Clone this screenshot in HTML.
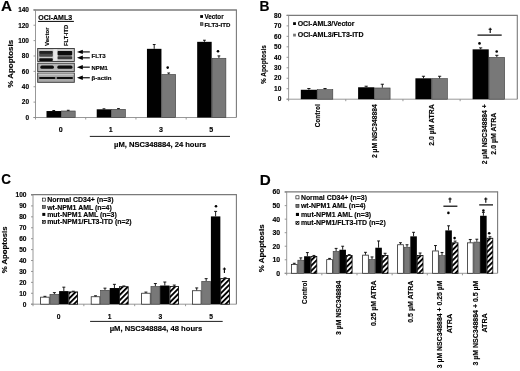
<!DOCTYPE html>
<html><head><meta charset="utf-8"><style>
html,body{margin:0;padding:0;background:#fff;overflow:hidden;}
svg{display:block;}
text{font-family:"Liberation Sans", sans-serif;stroke:#000;stroke-width:0.15px;}
</style></head><body>
<svg width="520" height="371" viewBox="0 0 520 371">
<defs>
<pattern id="hatch" patternUnits="userSpaceOnUse" width="3.7" height="3.7" patternTransform="rotate(45)">
<rect width="3.7" height="3.7" fill="#fff"/><rect width="1.9" height="3.7" fill="#000"/>
</pattern>
<pattern id="hatchS" patternUnits="userSpaceOnUse" width="1.8" height="1.8" patternTransform="rotate(45)">
<rect width="1.8" height="1.8" fill="#fff"/><rect width="0.9" height="1.8" fill="#000"/>
</pattern>
<filter id="bl" x="-5%" y="-5%" width="110%" height="110%"><feGaussianBlur stdDeviation="0.45"/></filter>
</defs>
<rect width="520" height="371" fill="#fff"/>
<g style="opacity:0.999">
<text x="1.1" y="11.2" font-size="15.0" text-anchor="start" font-weight="bold" fill="#000" textLength="11.0" lengthAdjust="spacingAndGlyphs">A</text>
<line x1="33.5" y1="10.0" x2="236.9" y2="10.0" stroke="#7a7a7a" stroke-width="1.3"/>
<line x1="236.4" y1="10.0" x2="236.4" y2="117.5" stroke="#7a7a7a" stroke-width="1.1"/>
<line x1="35.5" y1="10.0" x2="35.5" y2="119.5" stroke="#8c8c8c" stroke-width="0.9"/>
<line x1="33.5" y1="117.5" x2="236.4" y2="117.5" stroke="#8c8c8c" stroke-width="0.9"/>
<line x1="33.5" y1="117.5" x2="35.5" y2="117.5" stroke="#8c8c8c" stroke-width="0.9"/>
<text x="29.0" y="119.8" font-size="6.5" text-anchor="end" font-weight="bold" fill="#000">0</text>
<line x1="33.5" y1="102.12" x2="35.5" y2="102.12" stroke="#8c8c8c" stroke-width="0.9"/>
<text x="29.0" y="104.42" font-size="6.5" text-anchor="end" font-weight="bold" fill="#000">20</text>
<line x1="33.5" y1="86.74" x2="35.5" y2="86.74" stroke="#8c8c8c" stroke-width="0.9"/>
<text x="29.0" y="89.03999999999999" font-size="6.5" text-anchor="end" font-weight="bold" fill="#000">40</text>
<line x1="33.5" y1="71.36" x2="35.5" y2="71.36" stroke="#8c8c8c" stroke-width="0.9"/>
<text x="29.0" y="73.66" font-size="6.5" text-anchor="end" font-weight="bold" fill="#000">60</text>
<line x1="33.5" y1="55.98" x2="35.5" y2="55.98" stroke="#8c8c8c" stroke-width="0.9"/>
<text x="29.0" y="58.279999999999994" font-size="6.5" text-anchor="end" font-weight="bold" fill="#000">80</text>
<line x1="33.5" y1="40.599999999999994" x2="35.5" y2="40.599999999999994" stroke="#8c8c8c" stroke-width="0.9"/>
<text x="29.0" y="42.89999999999999" font-size="6.5" text-anchor="end" font-weight="bold" fill="#000">100</text>
<line x1="33.5" y1="25.22" x2="35.5" y2="25.22" stroke="#8c8c8c" stroke-width="0.9"/>
<text x="29.0" y="27.52" font-size="6.5" text-anchor="end" font-weight="bold" fill="#000">120</text>
<line x1="33.5" y1="9.840000000000003" x2="35.5" y2="9.840000000000003" stroke="#8c8c8c" stroke-width="0.9"/>
<text x="29.0" y="12.140000000000004" font-size="6.5" text-anchor="end" font-weight="bold" fill="#000">140</text>
<line x1="85.725" y1="117.5" x2="85.725" y2="119.5" stroke="#8c8c8c" stroke-width="0.9"/>
<line x1="135.95" y1="117.5" x2="135.95" y2="119.5" stroke="#8c8c8c" stroke-width="0.9"/>
<line x1="186.175" y1="117.5" x2="186.175" y2="119.5" stroke="#8c8c8c" stroke-width="0.9"/>
<text x="13.2" y="63.8" font-size="6.6" text-anchor="middle" font-weight="bold" fill="#000" transform="rotate(-90 13.2 63.8)" textLength="48" lengthAdjust="spacingAndGlyphs">% Apoptosis</text>
<rect x="46.50" y="111.04" width="14.50" height="6.46" fill="#000"/>
<rect x="61.30" y="110.99" width="13.90" height="6.51" fill="#787878" stroke="#3a3a3a" stroke-width="0.6"/>
<line x1="53.75" y1="111.04" x2="53.75" y2="110.50" stroke="#000" stroke-width="0.9"/>
<line x1="52.35" y1="110.50" x2="55.15" y2="110.50" stroke="#000" stroke-width="0.9"/>
<line x1="68.25" y1="110.69" x2="68.25" y2="110.27" stroke="#000" stroke-width="0.9"/>
<line x1="66.85" y1="110.27" x2="69.65" y2="110.27" stroke="#000" stroke-width="0.9"/>
<text x="60.6125" y="131.5" font-size="7.1" text-anchor="middle" font-weight="bold" fill="#000">0</text>
<rect x="96.72" y="109.31" width="14.50" height="8.19" fill="#000"/>
<rect x="111.52" y="109.30" width="13.90" height="8.20" fill="#787878" stroke="#3a3a3a" stroke-width="0.6"/>
<line x1="103.97" y1="109.31" x2="103.97" y2="108.81" stroke="#000" stroke-width="0.9"/>
<line x1="102.57" y1="108.81" x2="105.38" y2="108.81" stroke="#000" stroke-width="0.9"/>
<line x1="118.47" y1="109.00" x2="118.47" y2="108.58" stroke="#000" stroke-width="0.9"/>
<line x1="117.07" y1="108.58" x2="119.88" y2="108.58" stroke="#000" stroke-width="0.9"/>
<text x="110.83749999999999" y="131.5" font-size="7.1" text-anchor="middle" font-weight="bold" fill="#000">1</text>
<rect x="146.95" y="48.83" width="14.50" height="68.67" fill="#000"/>
<rect x="161.75" y="74.43" width="13.90" height="43.07" fill="#787878" stroke="#3a3a3a" stroke-width="0.6"/>
<line x1="154.20" y1="48.83" x2="154.20" y2="44.52" stroke="#000" stroke-width="0.9"/>
<line x1="152.80" y1="44.52" x2="155.60" y2="44.52" stroke="#000" stroke-width="0.9"/>
<line x1="168.70" y1="74.13" x2="168.70" y2="72.97" stroke="#000" stroke-width="0.9"/>
<line x1="167.30" y1="72.97" x2="170.10" y2="72.97" stroke="#000" stroke-width="0.9"/>
<text x="161.0625" y="131.5" font-size="7.1" text-anchor="middle" font-weight="bold" fill="#000">3</text>
<rect x="197.18" y="41.83" width="14.50" height="75.67" fill="#000"/>
<rect x="211.98" y="58.28" width="13.90" height="59.22" fill="#787878" stroke="#3a3a3a" stroke-width="0.6"/>
<line x1="204.43" y1="41.83" x2="204.43" y2="40.22" stroke="#000" stroke-width="0.9"/>
<line x1="203.03" y1="40.22" x2="205.83" y2="40.22" stroke="#000" stroke-width="0.9"/>
<line x1="218.93" y1="57.98" x2="218.93" y2="55.90" stroke="#000" stroke-width="0.9"/>
<line x1="217.53" y1="55.90" x2="220.33" y2="55.90" stroke="#000" stroke-width="0.9"/>
<text x="211.28750000000002" y="131.5" font-size="7.1" text-anchor="middle" font-weight="bold" fill="#000">5</text>
<circle cx="167.7" cy="67.6" r="1.3" fill="#000"/>
<circle cx="218.0" cy="51.3" r="1.3" fill="#000"/>
<line x1="89.8" y1="136.4" x2="230" y2="136.4" stroke="#000" stroke-width="0.9"/>
<text x="160.2" y="146.8" font-size="7.4" text-anchor="middle" font-weight="bold" fill="#000" textLength="92.3" lengthAdjust="spacingAndGlyphs">µM, NSC348884, 24 hours</text>
<rect x="200.20" y="15.10" width="2.80" height="2.80" fill="#000"/>
<text x="204.4" y="18.8" font-size="6.3" text-anchor="start" font-weight="bold" fill="#000" textLength="19.2" lengthAdjust="spacingAndGlyphs">Vector</text>
<rect x="200.40" y="22.70" width="2.60" height="2.60" fill="#787878" stroke="#222" stroke-width="0.6"/>
<text x="204.4" y="26.6" font-size="6.2" text-anchor="start" font-weight="bold" fill="#000" textLength="26" lengthAdjust="spacingAndGlyphs">FLT3-ITD</text>
<text x="38.2" y="20.3" font-size="7.0" text-anchor="start" font-weight="bold" fill="#000" textLength="34" lengthAdjust="spacingAndGlyphs">OCI-AML3</text>
<line x1="38.1" y1="21.4" x2="73.9" y2="21.4" stroke="#000" stroke-width="1.0"/>
<text x="49.4" y="46.0" font-size="6.0" text-anchor="start" font-weight="bold" fill="#000" transform="rotate(-90 49.4 46.0)" textLength="18.6" lengthAdjust="spacingAndGlyphs">Vector</text>
<text x="67.8" y="46.0" font-size="6.0" text-anchor="start" font-weight="bold" fill="#000" transform="rotate(-90 67.8 46.0)" textLength="21.2" lengthAdjust="spacingAndGlyphs">FLT-ITD</text>
<g filter="url(#bl)">
<rect x="37.70" y="48.50" width="36.60" height="13.00" fill="#c9c9c9" stroke="#333" stroke-width="0.9"/>
<rect x="53.40" y="49.30" width="3.80" height="11.40" fill="#e6e6e6"/>
<rect x="39.2" y="51.0" width="13.6" height="3.0" fill="#202020" rx="0.8"/>
<rect x="39.2" y="53.8" width="13.6" height="3.0" fill="#4a4a4a" rx="0.8"/>
<rect x="39.2" y="58.3" width="13.6" height="2.8" fill="#111" rx="0.8"/>
<rect x="57.6" y="51.0" width="14.6" height="4.4" fill="#0a0a0a" rx="0.8"/>
<rect x="57.6" y="56.3" width="14.6" height="3.0" fill="#3a3a3a" rx="0.8"/>
<rect x="37.70" y="63.20" width="36.60" height="8.40" fill="#b5b5b5" stroke="#333" stroke-width="0.9"/>
<rect x="40.3" y="65.6" width="13.6" height="3.1" fill="#0a0a0a" rx="1.5"/>
<rect x="57.3" y="65.6" width="15.2" height="3.1" fill="#0a0a0a" rx="1.5"/>
<rect x="37.70" y="73.10" width="36.60" height="9.20" fill="#a8a8a8" stroke="#333" stroke-width="0.9"/>
<rect x="38.30" y="73.60" width="35.40" height="1.60" fill="#c8c8c8"/>
<rect x="39.0" y="76.9" width="16.5" height="2.0" fill="#111" rx="1"/>
<rect x="56.5" y="76.9" width="16.5" height="2.0" fill="#111" rx="1"/>
</g>
<line x1="82" y1="51.9" x2="89.8" y2="51.9" stroke="#333" stroke-width="1.4"/>
<path d="M76.9 51.9 L82.8 49.699999999999996 L82.8 54.1 Z" fill="#000"/>
<line x1="82" y1="57.8" x2="89.8" y2="57.8" stroke="#333" stroke-width="1.4"/>
<path d="M76.9 57.8 L82.8 55.599999999999994 L82.8 60.0 Z" fill="#000"/>
<line x1="82" y1="67.2" x2="89.8" y2="67.2" stroke="#333" stroke-width="1.4"/>
<path d="M76.9 67.2 L82.8 65.0 L82.8 69.4 Z" fill="#000"/>
<line x1="82" y1="77.7" x2="89.8" y2="77.7" stroke="#333" stroke-width="1.4"/>
<path d="M76.9 77.7 L82.8 75.5 L82.8 79.9 Z" fill="#000"/>
<text x="91.5" y="57.8" font-size="6.1" text-anchor="start" font-weight="bold" fill="#000" textLength="14.2" lengthAdjust="spacingAndGlyphs">FLT3</text>
<text x="91.5" y="69.5" font-size="6.0" text-anchor="start" font-weight="bold" fill="#000" textLength="16.4" lengthAdjust="spacingAndGlyphs">NPM1</text>
<text x="91.5" y="80.0" font-size="6.1" text-anchor="start" font-weight="bold" fill="#000" textLength="20" lengthAdjust="spacingAndGlyphs">β-actin</text>
<text x="259.6" y="11.3" font-size="15.5" text-anchor="start" font-weight="bold" fill="#000" textLength="10.0" lengthAdjust="spacingAndGlyphs">B</text>
<line x1="286.6" y1="15.4" x2="517.8" y2="15.4" stroke="#7a7a7a" stroke-width="1.3"/>
<line x1="517.3" y1="15.4" x2="517.3" y2="99.2" stroke="#7a7a7a" stroke-width="1.1"/>
<line x1="288.6" y1="15.4" x2="288.6" y2="101.2" stroke="#8c8c8c" stroke-width="0.9"/>
<line x1="286.6" y1="99.2" x2="517.3" y2="99.2" stroke="#8c8c8c" stroke-width="0.9"/>
<line x1="286.6" y1="99.2" x2="288.6" y2="99.2" stroke="#8c8c8c" stroke-width="0.9"/>
<text x="281.4" y="101.4" font-size="6.6" text-anchor="end" font-weight="bold" fill="#000">0</text>
<line x1="286.6" y1="88.725" x2="288.6" y2="88.725" stroke="#8c8c8c" stroke-width="0.9"/>
<text x="281.4" y="90.925" font-size="6.6" text-anchor="end" font-weight="bold" fill="#000">10</text>
<line x1="286.6" y1="78.25" x2="288.6" y2="78.25" stroke="#8c8c8c" stroke-width="0.9"/>
<text x="281.4" y="80.45" font-size="6.6" text-anchor="end" font-weight="bold" fill="#000">20</text>
<line x1="286.6" y1="67.775" x2="288.6" y2="67.775" stroke="#8c8c8c" stroke-width="0.9"/>
<text x="281.4" y="69.97500000000001" font-size="6.6" text-anchor="end" font-weight="bold" fill="#000">30</text>
<line x1="286.6" y1="57.3" x2="288.6" y2="57.3" stroke="#8c8c8c" stroke-width="0.9"/>
<text x="281.4" y="59.5" font-size="6.6" text-anchor="end" font-weight="bold" fill="#000">40</text>
<line x1="286.6" y1="46.824999999999996" x2="288.6" y2="46.824999999999996" stroke="#8c8c8c" stroke-width="0.9"/>
<text x="281.4" y="49.025" font-size="6.6" text-anchor="end" font-weight="bold" fill="#000">50</text>
<line x1="286.6" y1="36.349999999999994" x2="288.6" y2="36.349999999999994" stroke="#8c8c8c" stroke-width="0.9"/>
<text x="281.4" y="38.55" font-size="6.6" text-anchor="end" font-weight="bold" fill="#000">60</text>
<line x1="286.6" y1="25.875" x2="288.6" y2="25.875" stroke="#8c8c8c" stroke-width="0.9"/>
<text x="281.4" y="28.075" font-size="6.6" text-anchor="end" font-weight="bold" fill="#000">70</text>
<line x1="286.6" y1="15.399999999999991" x2="288.6" y2="15.399999999999991" stroke="#8c8c8c" stroke-width="0.9"/>
<text x="281.4" y="17.59999999999999" font-size="6.6" text-anchor="end" font-weight="bold" fill="#000">80</text>
<line x1="345.775" y1="99.2" x2="345.775" y2="101.2" stroke="#8c8c8c" stroke-width="0.9"/>
<line x1="402.95" y1="99.2" x2="402.95" y2="101.2" stroke="#8c8c8c" stroke-width="0.9"/>
<line x1="460.125" y1="99.2" x2="460.125" y2="101.2" stroke="#8c8c8c" stroke-width="0.9"/>
<text x="266.5" y="64.6" font-size="7.0" text-anchor="middle" font-weight="bold" fill="#000" transform="rotate(-90 266.5 64.6)" textLength="39" lengthAdjust="spacingAndGlyphs">% Apoptosis</text>
<rect x="300.80" y="89.77" width="16.15" height="9.43" fill="#000"/>
<rect x="317.25" y="89.65" width="15.55" height="9.55" fill="#787878" stroke="#3a3a3a" stroke-width="0.6"/>
<line x1="308.88" y1="89.77" x2="308.88" y2="88.52" stroke="#000" stroke-width="0.9"/>
<line x1="307.27" y1="88.52" x2="310.48" y2="88.52" stroke="#000" stroke-width="0.9"/>
<line x1="325.03" y1="89.35" x2="325.03" y2="88.52" stroke="#000" stroke-width="0.9"/>
<line x1="323.43" y1="88.52" x2="326.63" y2="88.52" stroke="#000" stroke-width="0.9"/>
<rect x="358.10" y="87.26" width="16.15" height="11.94" fill="#000"/>
<rect x="374.55" y="87.98" width="15.55" height="11.22" fill="#787878" stroke="#3a3a3a" stroke-width="0.6"/>
<line x1="366.18" y1="87.26" x2="366.18" y2="86.21" stroke="#000" stroke-width="0.9"/>
<line x1="364.57" y1="86.21" x2="367.78" y2="86.21" stroke="#000" stroke-width="0.9"/>
<line x1="382.33" y1="87.68" x2="382.33" y2="84.22" stroke="#000" stroke-width="0.9"/>
<line x1="380.73" y1="84.22" x2="383.93" y2="84.22" stroke="#000" stroke-width="0.9"/>
<rect x="415.40" y="78.30" width="16.15" height="20.90" fill="#000"/>
<rect x="431.85" y="78.60" width="15.55" height="20.60" fill="#787878" stroke="#3a3a3a" stroke-width="0.6"/>
<line x1="423.47" y1="78.30" x2="423.47" y2="76.26" stroke="#000" stroke-width="0.9"/>
<line x1="421.87" y1="76.26" x2="425.07" y2="76.26" stroke="#000" stroke-width="0.9"/>
<line x1="439.62" y1="78.30" x2="439.62" y2="76.26" stroke="#000" stroke-width="0.9"/>
<line x1="438.02" y1="76.26" x2="441.23" y2="76.26" stroke="#000" stroke-width="0.9"/>
<rect x="472.60" y="49.34" width="16.15" height="49.86" fill="#000"/>
<rect x="489.05" y="57.39" width="15.55" height="41.81" fill="#787878" stroke="#3a3a3a" stroke-width="0.6"/>
<line x1="480.68" y1="49.34" x2="480.68" y2="47.87" stroke="#000" stroke-width="0.9"/>
<line x1="479.07" y1="47.87" x2="482.28" y2="47.87" stroke="#000" stroke-width="0.9"/>
<line x1="496.83" y1="57.09" x2="496.83" y2="55.31" stroke="#000" stroke-width="0.9"/>
<line x1="495.23" y1="55.31" x2="498.43" y2="55.31" stroke="#000" stroke-width="0.9"/>
<text x="320.0" y="104.3" font-size="6.5" text-anchor="end" font-weight="bold" fill="#000" transform="rotate(-90 320.0 104.3)" textLength="23.0" lengthAdjust="spacingAndGlyphs">Control</text>
<text x="376.8" y="104.3" font-size="6.7" text-anchor="end" font-weight="bold" fill="#000" transform="rotate(-90 376.8 104.3)" textLength="53.7" lengthAdjust="spacingAndGlyphs">2 µM NSC348884</text>
<text x="434.0" y="104.3" font-size="6.8" text-anchor="end" font-weight="bold" fill="#000" transform="rotate(-90 434.0 104.3)" textLength="41.5" lengthAdjust="spacingAndGlyphs">2.0 µM ATRA</text>
<text x="487.4" y="104.3" font-size="6.8" text-anchor="end" font-weight="bold" fill="#000" transform="rotate(-90 487.4 104.3)" textLength="60" lengthAdjust="spacingAndGlyphs">2 µM NSC348884 +</text>
<text x="496.2" y="133.7" font-size="6.8" text-anchor="middle" font-weight="bold" fill="#000" transform="rotate(-90 496.2 133.7)" textLength="41.9" lengthAdjust="spacingAndGlyphs">2.0 µM ATRA</text>
<circle cx="479.5" cy="43.4" r="1.3" fill="#000"/>
<circle cx="496.7" cy="51.5" r="1.3" fill="#000"/>
<line x1="477.5" y1="35.1" x2="501.7" y2="35.1" stroke="#000" stroke-width="1.2"/>
<path d="M489.65 27.70 h1.1 v5.4 h-1.1 Z M488.60 28.80 h3.2 v1.0 h-3.2 Z" fill="#000"/>
<rect x="293.10" y="22.20" width="2.80" height="2.80" fill="#000"/>
<text x="297.7" y="26.0" font-size="6.8" text-anchor="start" font-weight="bold" fill="#000" textLength="56.9" lengthAdjust="spacingAndGlyphs">OCI-AML3/Vector</text>
<rect x="293.10" y="33.70" width="2.80" height="2.80" fill="#787878"/>
<text x="297.7" y="37.4" font-size="6.8" text-anchor="start" font-weight="bold" fill="#000" textLength="65.8" lengthAdjust="spacingAndGlyphs">OCI-AML3/FLT3-ITD</text>
<text x="1.3" y="184.4" font-size="15.5" text-anchor="start" font-weight="bold" fill="#000" textLength="9.8" lengthAdjust="spacingAndGlyphs">C</text>
<line x1="31.0" y1="194.6" x2="236.9" y2="194.6" stroke="#7a7a7a" stroke-width="1.3"/>
<line x1="236.4" y1="194.6" x2="236.4" y2="304.2" stroke="#7a7a7a" stroke-width="1.1"/>
<line x1="33.0" y1="194.6" x2="33.0" y2="306.2" stroke="#8c8c8c" stroke-width="0.9"/>
<line x1="31.0" y1="304.2" x2="236.4" y2="304.2" stroke="#8c8c8c" stroke-width="0.9"/>
<line x1="31.0" y1="304.2" x2="33.0" y2="304.2" stroke="#8c8c8c" stroke-width="0.9"/>
<text x="26.5" y="306.5" font-size="6.6" text-anchor="end" font-weight="bold" fill="#000">0</text>
<line x1="31.0" y1="293.28" x2="33.0" y2="293.28" stroke="#8c8c8c" stroke-width="0.9"/>
<text x="26.5" y="295.58" font-size="6.6" text-anchor="end" font-weight="bold" fill="#000">10</text>
<line x1="31.0" y1="282.36" x2="33.0" y2="282.36" stroke="#8c8c8c" stroke-width="0.9"/>
<text x="26.5" y="284.66" font-size="6.6" text-anchor="end" font-weight="bold" fill="#000">20</text>
<line x1="31.0" y1="271.44" x2="33.0" y2="271.44" stroke="#8c8c8c" stroke-width="0.9"/>
<text x="26.5" y="273.74" font-size="6.6" text-anchor="end" font-weight="bold" fill="#000">30</text>
<line x1="31.0" y1="260.52" x2="33.0" y2="260.52" stroke="#8c8c8c" stroke-width="0.9"/>
<text x="26.5" y="262.82" font-size="6.6" text-anchor="end" font-weight="bold" fill="#000">40</text>
<line x1="31.0" y1="249.6" x2="33.0" y2="249.6" stroke="#8c8c8c" stroke-width="0.9"/>
<text x="26.5" y="251.9" font-size="6.6" text-anchor="end" font-weight="bold" fill="#000">50</text>
<line x1="31.0" y1="238.67999999999998" x2="33.0" y2="238.67999999999998" stroke="#8c8c8c" stroke-width="0.9"/>
<text x="26.5" y="240.98" font-size="6.6" text-anchor="end" font-weight="bold" fill="#000">60</text>
<line x1="31.0" y1="227.76" x2="33.0" y2="227.76" stroke="#8c8c8c" stroke-width="0.9"/>
<text x="26.5" y="230.06" font-size="6.6" text-anchor="end" font-weight="bold" fill="#000">70</text>
<line x1="31.0" y1="216.83999999999997" x2="33.0" y2="216.83999999999997" stroke="#8c8c8c" stroke-width="0.9"/>
<text x="26.5" y="219.14" font-size="6.6" text-anchor="end" font-weight="bold" fill="#000">80</text>
<line x1="31.0" y1="205.92" x2="33.0" y2="205.92" stroke="#8c8c8c" stroke-width="0.9"/>
<text x="26.5" y="208.22" font-size="6.6" text-anchor="end" font-weight="bold" fill="#000">90</text>
<line x1="31.0" y1="195.0" x2="33.0" y2="195.0" stroke="#8c8c8c" stroke-width="0.9"/>
<text x="26.5" y="197.3" font-size="6.6" text-anchor="end" font-weight="bold" fill="#000">100</text>
<line x1="83.85" y1="304.2" x2="83.85" y2="306.2" stroke="#8c8c8c" stroke-width="0.9"/>
<line x1="134.7" y1="304.2" x2="134.7" y2="306.2" stroke="#8c8c8c" stroke-width="0.9"/>
<line x1="185.55" y1="304.2" x2="185.55" y2="306.2" stroke="#8c8c8c" stroke-width="0.9"/>
<text x="7.0" y="249.9" font-size="6.8" text-anchor="middle" font-weight="bold" fill="#000" transform="rotate(-90 7.0 249.9)" textLength="46.8" lengthAdjust="spacingAndGlyphs">% Apoptosis</text>
<rect x="40.60" y="297.17" width="8.65" height="7.03" fill="#fff" stroke="#2a2a2a" stroke-width="0.8"/>
<line x1="44.93" y1="296.77" x2="44.93" y2="296.34" stroke="#000" stroke-width="0.9"/>
<line x1="43.43" y1="296.34" x2="46.43" y2="296.34" stroke="#000" stroke-width="0.9"/>
<rect x="49.95" y="294.34" width="8.85" height="9.86" fill="#787878" stroke="#3a3a3a" stroke-width="0.6"/>
<line x1="54.38" y1="294.04" x2="54.38" y2="292.62" stroke="#000" stroke-width="0.9"/>
<line x1="52.88" y1="292.62" x2="55.88" y2="292.62" stroke="#000" stroke-width="0.9"/>
<rect x="59.10" y="291.10" width="9.45" height="13.10" fill="#000"/>
<line x1="63.83" y1="291.10" x2="63.83" y2="287.16" stroke="#000" stroke-width="0.9"/>
<line x1="62.33" y1="287.16" x2="65.33" y2="287.16" stroke="#000" stroke-width="0.9"/>
<rect x="68.95" y="291.93" width="8.65" height="12.27" fill="url(#hatch)" stroke="#000" stroke-width="0.8"/>
<line x1="73.27" y1="291.53" x2="73.27" y2="291.21" stroke="#000" stroke-width="0.9"/>
<line x1="71.77" y1="291.21" x2="74.77" y2="291.21" stroke="#000" stroke-width="0.9"/>
<rect x="91.20" y="296.74" width="8.65" height="7.46" fill="#fff" stroke="#2a2a2a" stroke-width="0.8"/>
<line x1="95.52" y1="296.34" x2="95.52" y2="295.79" stroke="#000" stroke-width="0.9"/>
<line x1="94.02" y1="295.79" x2="97.02" y2="295.79" stroke="#000" stroke-width="0.9"/>
<rect x="100.55" y="290.30" width="8.85" height="13.90" fill="#787878" stroke="#3a3a3a" stroke-width="0.6"/>
<line x1="104.97" y1="290.00" x2="104.97" y2="288.15" stroke="#000" stroke-width="0.9"/>
<line x1="103.47" y1="288.15" x2="106.47" y2="288.15" stroke="#000" stroke-width="0.9"/>
<rect x="109.70" y="288.04" width="9.45" height="16.16" fill="#000"/>
<line x1="114.42" y1="288.04" x2="114.42" y2="284.33" stroke="#000" stroke-width="0.9"/>
<line x1="112.92" y1="284.33" x2="115.92" y2="284.33" stroke="#000" stroke-width="0.9"/>
<rect x="119.55" y="286.69" width="8.65" height="17.51" fill="url(#hatch)" stroke="#000" stroke-width="0.8"/>
<line x1="123.87" y1="286.29" x2="123.87" y2="285.96" stroke="#000" stroke-width="0.9"/>
<line x1="122.37" y1="285.96" x2="125.37" y2="285.96" stroke="#000" stroke-width="0.9"/>
<rect x="141.60" y="293.24" width="8.65" height="10.96" fill="#fff" stroke="#2a2a2a" stroke-width="0.8"/>
<line x1="145.92" y1="292.84" x2="145.92" y2="292.08" stroke="#000" stroke-width="0.9"/>
<line x1="144.42" y1="292.08" x2="147.42" y2="292.08" stroke="#000" stroke-width="0.9"/>
<rect x="150.95" y="286.48" width="8.85" height="17.72" fill="#787878" stroke="#3a3a3a" stroke-width="0.6"/>
<line x1="155.37" y1="286.18" x2="155.37" y2="283.56" stroke="#000" stroke-width="0.9"/>
<line x1="153.87" y1="283.56" x2="156.87" y2="283.56" stroke="#000" stroke-width="0.9"/>
<rect x="160.10" y="285.53" width="9.45" height="18.67" fill="#000"/>
<line x1="164.82" y1="285.53" x2="164.82" y2="282.03" stroke="#000" stroke-width="0.9"/>
<line x1="163.32" y1="282.03" x2="166.32" y2="282.03" stroke="#000" stroke-width="0.9"/>
<rect x="169.95" y="286.58" width="8.65" height="17.62" fill="url(#hatch)" stroke="#000" stroke-width="0.8"/>
<line x1="174.27" y1="286.18" x2="174.27" y2="285.09" stroke="#000" stroke-width="0.9"/>
<line x1="172.77" y1="285.09" x2="175.77" y2="285.09" stroke="#000" stroke-width="0.9"/>
<rect x="192.40" y="290.73" width="8.65" height="13.47" fill="#fff" stroke="#2a2a2a" stroke-width="0.8"/>
<line x1="196.72" y1="290.33" x2="196.72" y2="287.93" stroke="#000" stroke-width="0.9"/>
<line x1="195.22" y1="287.93" x2="198.22" y2="287.93" stroke="#000" stroke-width="0.9"/>
<rect x="201.75" y="281.35" width="8.85" height="22.85" fill="#787878" stroke="#3a3a3a" stroke-width="0.6"/>
<line x1="206.17" y1="281.05" x2="206.17" y2="278.65" stroke="#000" stroke-width="0.9"/>
<line x1="204.67" y1="278.65" x2="207.67" y2="278.65" stroke="#000" stroke-width="0.9"/>
<rect x="210.90" y="216.40" width="9.45" height="87.80" fill="#000"/>
<line x1="215.62" y1="216.40" x2="215.62" y2="211.38" stroke="#000" stroke-width="0.9"/>
<line x1="214.12" y1="211.38" x2="217.12" y2="211.38" stroke="#000" stroke-width="0.9"/>
<rect x="220.75" y="278.50" width="8.65" height="25.70" fill="url(#hatch)" stroke="#000" stroke-width="0.8"/>
<line x1="225.07" y1="278.10" x2="225.07" y2="277.77" stroke="#000" stroke-width="0.9"/>
<line x1="223.57" y1="277.77" x2="226.57" y2="277.77" stroke="#000" stroke-width="0.9"/>
<text x="58.65" y="318.8" font-size="6.7" text-anchor="middle" font-weight="bold" fill="#000">0</text>
<text x="109.5" y="318.8" font-size="6.7" text-anchor="middle" font-weight="bold" fill="#000">1</text>
<text x="160.3" y="318.8" font-size="6.7" text-anchor="middle" font-weight="bold" fill="#000">3</text>
<text x="211.0" y="318.8" font-size="6.7" text-anchor="middle" font-weight="bold" fill="#000">5</text>
<circle cx="216.0" cy="206.3" r="1.3" fill="#000"/>
<path d="M223.85 267.50 h1.1 v5.4 h-1.1 Z M222.80 268.60 h3.2 v1.0 h-3.2 Z" fill="#000"/>
<line x1="90.1" y1="321.4" x2="222.7" y2="321.4" stroke="#000" stroke-width="0.9"/>
<text x="156.0" y="331.0" font-size="7.4" text-anchor="middle" font-weight="bold" fill="#000" textLength="92.6" lengthAdjust="spacingAndGlyphs">µM, NSC348884, 48 hours</text>
<rect x="42.30" y="198.10" width="3.00" height="3.00" fill="#fff" stroke="#000" stroke-width="0.6"/>
<text x="47.2" y="202.1" font-size="6.95" text-anchor="start" font-weight="bold" fill="#000">Normal CD34+ (n=3)</text>
<rect x="42.30" y="205.50" width="3.00" height="3.00" fill="#787878" stroke="#222" stroke-width="0.6"/>
<text x="47.2" y="209.5" font-size="6.95" text-anchor="start" font-weight="bold" fill="#000">wt-NPM1 AML (n=4)</text>
<rect x="42.30" y="212.90" width="3.00" height="3.00" fill="#000"/>
<text x="47.2" y="216.9" font-size="6.95" text-anchor="start" font-weight="bold" fill="#000">mut-NPM1 AML (n=3)</text>
<rect x="42.30" y="220.30" width="3.00" height="3.00" fill="url(#hatchS)" stroke="#000" stroke-width="0.6"/>
<text x="47.2" y="224.3" font-size="6.95" text-anchor="start" font-weight="bold" fill="#000">mut-NPM1/FLT3-ITD (n=2)</text>
<text x="259.8" y="184.6" font-size="15.5" text-anchor="start" font-weight="bold" fill="#000" textLength="11.0" lengthAdjust="spacingAndGlyphs">D</text>
<line x1="284.7" y1="191.8" x2="498.1" y2="191.8" stroke="#7a7a7a" stroke-width="1.3"/>
<line x1="497.6" y1="191.8" x2="497.6" y2="273.3" stroke="#7a7a7a" stroke-width="1.1"/>
<line x1="286.7" y1="191.8" x2="286.7" y2="275.3" stroke="#8c8c8c" stroke-width="0.9"/>
<line x1="284.7" y1="273.3" x2="497.6" y2="273.3" stroke="#8c8c8c" stroke-width="0.9"/>
<line x1="284.7" y1="273.3" x2="286.7" y2="273.3" stroke="#8c8c8c" stroke-width="0.9"/>
<text x="280.2" y="275.65000000000003" font-size="6.9" text-anchor="end" font-weight="bold" fill="#000">0</text>
<line x1="284.7" y1="259.767" x2="286.7" y2="259.767" stroke="#8c8c8c" stroke-width="0.9"/>
<text x="280.2" y="262.117" font-size="6.9" text-anchor="end" font-weight="bold" fill="#000">10</text>
<line x1="284.7" y1="246.234" x2="286.7" y2="246.234" stroke="#8c8c8c" stroke-width="0.9"/>
<text x="280.2" y="248.584" font-size="6.9" text-anchor="end" font-weight="bold" fill="#000">20</text>
<line x1="284.7" y1="232.70100000000002" x2="286.7" y2="232.70100000000002" stroke="#8c8c8c" stroke-width="0.9"/>
<text x="280.2" y="235.05100000000002" font-size="6.9" text-anchor="end" font-weight="bold" fill="#000">30</text>
<line x1="284.7" y1="219.168" x2="286.7" y2="219.168" stroke="#8c8c8c" stroke-width="0.9"/>
<text x="280.2" y="221.518" font-size="6.9" text-anchor="end" font-weight="bold" fill="#000">40</text>
<line x1="284.7" y1="205.63500000000002" x2="286.7" y2="205.63500000000002" stroke="#8c8c8c" stroke-width="0.9"/>
<text x="280.2" y="207.985" font-size="6.9" text-anchor="end" font-weight="bold" fill="#000">50</text>
<line x1="284.7" y1="192.10200000000003" x2="286.7" y2="192.10200000000003" stroke="#8c8c8c" stroke-width="0.9"/>
<text x="280.2" y="194.45200000000003" font-size="6.9" text-anchor="end" font-weight="bold" fill="#000">60</text>
<line x1="321.85" y1="273.3" x2="321.85" y2="275.3" stroke="#8c8c8c" stroke-width="0.9"/>
<line x1="357.0" y1="273.3" x2="357.0" y2="275.3" stroke="#8c8c8c" stroke-width="0.9"/>
<line x1="392.15" y1="273.3" x2="392.15" y2="275.3" stroke="#8c8c8c" stroke-width="0.9"/>
<line x1="427.3" y1="273.3" x2="427.3" y2="275.3" stroke="#8c8c8c" stroke-width="0.9"/>
<line x1="462.45000000000005" y1="273.3" x2="462.45000000000005" y2="275.3" stroke="#8c8c8c" stroke-width="0.9"/>
<text x="264.1" y="248.3" font-size="6.6" text-anchor="middle" font-weight="bold" fill="#000" transform="rotate(-90 264.1 248.3)" textLength="48" lengthAdjust="spacingAndGlyphs">% Apoptosis</text>
<rect x="291.40" y="264.50" width="5.75" height="8.80" fill="#fff" stroke="#2a2a2a" stroke-width="0.8"/>
<line x1="294.27" y1="264.10" x2="294.27" y2="263.29" stroke="#000" stroke-width="0.9"/>
<line x1="292.82" y1="263.29" x2="295.72" y2="263.29" stroke="#000" stroke-width="0.9"/>
<rect x="297.85" y="260.20" width="5.95" height="13.10" fill="#787878" stroke="#3a3a3a" stroke-width="0.6"/>
<line x1="300.82" y1="259.90" x2="300.82" y2="257.87" stroke="#000" stroke-width="0.9"/>
<line x1="299.38" y1="257.87" x2="302.27" y2="257.87" stroke="#000" stroke-width="0.9"/>
<rect x="304.10" y="256.25" width="6.55" height="17.05" fill="#000"/>
<line x1="307.38" y1="256.25" x2="307.38" y2="252.59" stroke="#000" stroke-width="0.9"/>
<line x1="305.93" y1="252.59" x2="308.82" y2="252.59" stroke="#000" stroke-width="0.9"/>
<rect x="311.05" y="256.38" width="5.75" height="16.92" fill="url(#hatch)" stroke="#000" stroke-width="0.8"/>
<line x1="313.92" y1="255.98" x2="313.92" y2="255.44" stroke="#000" stroke-width="0.9"/>
<line x1="312.47" y1="255.44" x2="315.37" y2="255.44" stroke="#000" stroke-width="0.9"/>
<rect x="326.70" y="259.63" width="5.75" height="13.67" fill="#fff" stroke="#2a2a2a" stroke-width="0.8"/>
<line x1="329.57" y1="259.23" x2="329.57" y2="258.41" stroke="#000" stroke-width="0.9"/>
<line x1="328.12" y1="258.41" x2="331.02" y2="258.41" stroke="#000" stroke-width="0.9"/>
<rect x="333.15" y="251.41" width="5.95" height="21.89" fill="#787878" stroke="#3a3a3a" stroke-width="0.6"/>
<line x1="336.12" y1="251.11" x2="336.12" y2="248.40" stroke="#000" stroke-width="0.9"/>
<line x1="334.68" y1="248.40" x2="337.57" y2="248.40" stroke="#000" stroke-width="0.9"/>
<rect x="339.40" y="249.75" width="6.55" height="23.55" fill="#000"/>
<line x1="342.68" y1="249.75" x2="342.68" y2="246.23" stroke="#000" stroke-width="0.9"/>
<line x1="341.23" y1="246.23" x2="344.12" y2="246.23" stroke="#000" stroke-width="0.9"/>
<rect x="346.35" y="255.57" width="5.75" height="17.73" fill="url(#hatch)" stroke="#000" stroke-width="0.8"/>
<line x1="349.22" y1="255.17" x2="349.22" y2="254.62" stroke="#000" stroke-width="0.9"/>
<line x1="347.77" y1="254.62" x2="350.67" y2="254.62" stroke="#000" stroke-width="0.9"/>
<rect x="362.60" y="255.16" width="5.75" height="18.14" fill="#fff" stroke="#2a2a2a" stroke-width="0.8"/>
<line x1="365.47" y1="254.76" x2="365.47" y2="252.32" stroke="#000" stroke-width="0.9"/>
<line x1="364.02" y1="252.32" x2="366.92" y2="252.32" stroke="#000" stroke-width="0.9"/>
<rect x="369.05" y="259.53" width="5.95" height="13.77" fill="#787878" stroke="#3a3a3a" stroke-width="0.6"/>
<line x1="372.02" y1="259.23" x2="372.02" y2="256.93" stroke="#000" stroke-width="0.9"/>
<line x1="370.57" y1="256.93" x2="373.47" y2="256.93" stroke="#000" stroke-width="0.9"/>
<rect x="375.30" y="247.72" width="6.55" height="25.58" fill="#000"/>
<line x1="378.57" y1="247.72" x2="378.57" y2="240.96" stroke="#000" stroke-width="0.9"/>
<line x1="377.12" y1="240.96" x2="380.02" y2="240.96" stroke="#000" stroke-width="0.9"/>
<rect x="382.25" y="255.57" width="5.75" height="17.73" fill="url(#hatch)" stroke="#000" stroke-width="0.8"/>
<line x1="385.12" y1="255.17" x2="385.12" y2="253.27" stroke="#000" stroke-width="0.9"/>
<line x1="383.67" y1="253.27" x2="386.57" y2="253.27" stroke="#000" stroke-width="0.9"/>
<rect x="397.60" y="244.74" width="5.75" height="28.56" fill="#fff" stroke="#2a2a2a" stroke-width="0.8"/>
<line x1="400.47" y1="244.34" x2="400.47" y2="242.72" stroke="#000" stroke-width="0.9"/>
<line x1="399.02" y1="242.72" x2="401.92" y2="242.72" stroke="#000" stroke-width="0.9"/>
<rect x="404.05" y="247.21" width="5.95" height="26.09" fill="#787878" stroke="#3a3a3a" stroke-width="0.6"/>
<line x1="407.02" y1="246.91" x2="407.02" y2="244.75" stroke="#000" stroke-width="0.9"/>
<line x1="405.57" y1="244.75" x2="408.47" y2="244.75" stroke="#000" stroke-width="0.9"/>
<rect x="410.30" y="236.35" width="6.55" height="36.95" fill="#000"/>
<line x1="413.57" y1="236.35" x2="413.57" y2="232.30" stroke="#000" stroke-width="0.9"/>
<line x1="412.12" y1="232.30" x2="415.02" y2="232.30" stroke="#000" stroke-width="0.9"/>
<rect x="417.25" y="255.57" width="5.75" height="17.73" fill="url(#hatch)" stroke="#000" stroke-width="0.8"/>
<line x1="420.12" y1="255.17" x2="420.12" y2="253.00" stroke="#000" stroke-width="0.9"/>
<line x1="418.67" y1="253.00" x2="421.57" y2="253.00" stroke="#000" stroke-width="0.9"/>
<rect x="432.60" y="250.96" width="5.75" height="22.34" fill="#fff" stroke="#2a2a2a" stroke-width="0.8"/>
<line x1="435.47" y1="250.56" x2="435.47" y2="245.56" stroke="#000" stroke-width="0.9"/>
<line x1="434.02" y1="245.56" x2="436.92" y2="245.56" stroke="#000" stroke-width="0.9"/>
<rect x="439.05" y="255.60" width="5.95" height="17.70" fill="#787878" stroke="#3a3a3a" stroke-width="0.6"/>
<line x1="442.02" y1="255.30" x2="442.02" y2="252.46" stroke="#000" stroke-width="0.9"/>
<line x1="440.57" y1="252.46" x2="443.47" y2="252.46" stroke="#000" stroke-width="0.9"/>
<rect x="445.30" y="230.40" width="6.55" height="42.90" fill="#000"/>
<line x1="448.57" y1="230.40" x2="448.57" y2="225.80" stroke="#000" stroke-width="0.9"/>
<line x1="447.12" y1="225.80" x2="450.02" y2="225.80" stroke="#000" stroke-width="0.9"/>
<rect x="452.25" y="242.84" width="5.75" height="30.46" fill="url(#hatch)" stroke="#000" stroke-width="0.8"/>
<line x1="455.12" y1="242.44" x2="455.12" y2="241.09" stroke="#000" stroke-width="0.9"/>
<line x1="453.67" y1="241.09" x2="456.57" y2="241.09" stroke="#000" stroke-width="0.9"/>
<rect x="467.40" y="242.84" width="5.75" height="30.46" fill="#fff" stroke="#2a2a2a" stroke-width="0.8"/>
<line x1="470.27" y1="242.44" x2="470.27" y2="239.47" stroke="#000" stroke-width="0.9"/>
<line x1="468.82" y1="239.47" x2="471.72" y2="239.47" stroke="#000" stroke-width="0.9"/>
<rect x="473.85" y="242.07" width="5.95" height="31.23" fill="#787878" stroke="#3a3a3a" stroke-width="0.6"/>
<line x1="476.82" y1="241.77" x2="476.82" y2="239.20" stroke="#000" stroke-width="0.9"/>
<line x1="475.38" y1="239.20" x2="478.27" y2="239.20" stroke="#000" stroke-width="0.9"/>
<rect x="480.10" y="215.78" width="6.55" height="57.52" fill="#000"/>
<line x1="483.38" y1="215.78" x2="483.38" y2="212.40" stroke="#000" stroke-width="0.9"/>
<line x1="481.93" y1="212.40" x2="484.82" y2="212.40" stroke="#000" stroke-width="0.9"/>
<rect x="487.05" y="238.24" width="5.75" height="35.06" fill="url(#hatch)" stroke="#000" stroke-width="0.8"/>
<line x1="489.92" y1="237.84" x2="489.92" y2="236.76" stroke="#000" stroke-width="0.9"/>
<line x1="488.47" y1="236.76" x2="491.37" y2="236.76" stroke="#000" stroke-width="0.9"/>
<text x="307.4" y="280.6" font-size="6.6" text-anchor="end" font-weight="bold" fill="#000" transform="rotate(-90 307.4 280.6)" textLength="23.3" lengthAdjust="spacingAndGlyphs">Control</text>
<text x="341.2" y="280.6" font-size="6.8" text-anchor="end" font-weight="bold" fill="#000" transform="rotate(-90 341.2 280.6)" textLength="54.3" lengthAdjust="spacingAndGlyphs">3 µM NSC348884</text>
<text x="375.9" y="280.6" font-size="6.9" text-anchor="end" font-weight="bold" fill="#000" transform="rotate(-90 375.9 280.6)" textLength="45.5" lengthAdjust="spacingAndGlyphs">0.25 µM ATRA</text>
<text x="412.8" y="280.6" font-size="7.0" text-anchor="end" font-weight="bold" fill="#000" transform="rotate(-90 412.8 280.6)" textLength="42.2" lengthAdjust="spacingAndGlyphs">0.5 µM ATRA</text>
<text x="442.2" y="280.6" font-size="6.9" text-anchor="end" font-weight="bold" fill="#000" transform="rotate(-90 442.2 280.6)" textLength="87.6" lengthAdjust="spacingAndGlyphs">3 µM NSC348884 + 0.25 µM</text>
<text x="478.4" y="280.6" font-size="6.9" text-anchor="end" font-weight="bold" fill="#000" transform="rotate(-90 478.4 280.6)" textLength="85" lengthAdjust="spacingAndGlyphs">3 µM NSC348884 + 0.5 µM</text>
<text x="452.2" y="323.6" font-size="7.0" text-anchor="middle" font-weight="bold" fill="#000" transform="rotate(-90 452.2 323.6)" textLength="19.4" lengthAdjust="spacingAndGlyphs">ATRA</text>
<text x="487.5" y="322.9" font-size="7.0" text-anchor="middle" font-weight="bold" fill="#000" transform="rotate(-90 487.5 322.9)" textLength="19.2" lengthAdjust="spacingAndGlyphs">ATRA</text>
<circle cx="448.4" cy="212.9" r="1.3" fill="#000"/>
<circle cx="454.6" cy="238.1" r="1.3" fill="#000"/>
<circle cx="483.4" cy="210.6" r="1.3" fill="#000"/>
<circle cx="489.2" cy="233.2" r="1.3" fill="#000"/>
<line x1="443.4" y1="206.2" x2="457.4" y2="206.2" stroke="#000" stroke-width="1.2"/>
<line x1="479.2" y1="204.9" x2="493.0" y2="204.9" stroke="#000" stroke-width="1.2"/>
<path d="M449.45 197.40 h1.1 v5.4 h-1.1 Z M448.40 198.50 h3.2 v1.0 h-3.2 Z" fill="#000"/>
<path d="M485.25 197.40 h1.1 v5.4 h-1.1 Z M484.20 198.50 h3.2 v1.0 h-3.2 Z" fill="#000"/>
<rect x="295.90" y="195.80" width="3.10" height="3.10" fill="#fff" stroke="#000" stroke-width="0.6"/>
<text x="300.9" y="199.8" font-size="7.2" text-anchor="start" font-weight="bold" fill="#000" textLength="66.1" lengthAdjust="spacingAndGlyphs">Normal CD34+ (n=3)</text>
<rect x="295.90" y="204.30" width="3.10" height="3.10" fill="#787878" stroke="#222" stroke-width="0.6"/>
<text x="300.9" y="208.3" font-size="7.2" text-anchor="start" font-weight="bold" fill="#000" textLength="64.8" lengthAdjust="spacingAndGlyphs">wt-NPM1 AML (n=4)</text>
<rect x="295.90" y="212.90" width="3.10" height="3.10" fill="#000"/>
<text x="300.9" y="216.9" font-size="7.2" text-anchor="start" font-weight="bold" fill="#000" textLength="70.3" lengthAdjust="spacingAndGlyphs">mut-NPM1 AML (n=3)</text>
<rect x="295.90" y="221.40" width="3.10" height="3.10" fill="url(#hatchS)" stroke="#000" stroke-width="0.6"/>
<text x="300.9" y="225.4" font-size="7.2" text-anchor="start" font-weight="bold" fill="#000" textLength="84.9" lengthAdjust="spacingAndGlyphs">mut-NPM1/FLT3-ITD (n=2)</text>
</g>
</svg>
</body></html>
